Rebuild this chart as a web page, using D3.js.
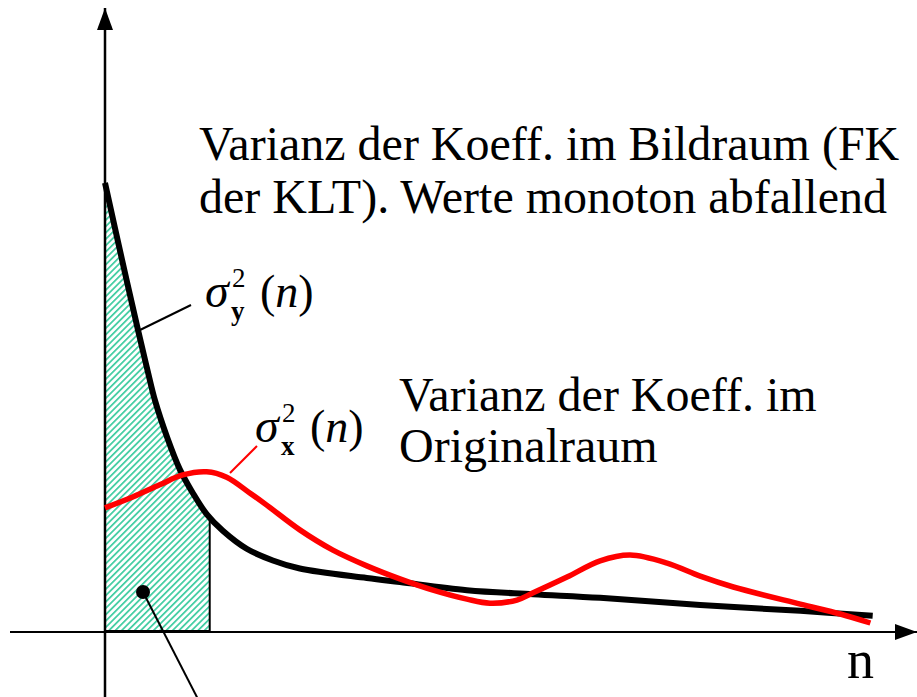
<!DOCTYPE html>
<html lang="en">
<head>
  <meta charset="utf-8">
  <script src="https://d3js.org/d3.v7.min.js"></script>
  <style>
    body { margin: 0; background: #fff; }
    text { font-family: "Liberation Serif", "DejaVu Serif", serif; fill: #000; }
  </style>
</head>
<body>
<script>
// Varianz im Bildraum (KLT), monoton abfallend
const nY = [0, 0.22, 0.43, 0.55, 0.65, 0.81, 0.97, 1.14, 1.32, 1.53, 1.84, 2.18, 2.53, 3.4, 3.83, 4.7, 5.56, 6.43, 7.73, 9.03, 9.97];
const varY = [9.98, 8.28, 6.7, 5.83, 5.14, 4.31, 3.62, 3.09, 2.62, 2.25, 1.85, 1.59, 1.41, 1.2, 1.11, 0.93, 0.84, 0.76, 0.6, 0.47, 0.36];
// Varianz im Originalraum
const nX = [0, 0.36, 0.71, 1.01, 1.32, 1.58, 1.88, 2.1, 2.53, 2.96, 3.4, 3.83, 4.26, 4.7, 5.0, 5.35, 5.56, 6.0, 6.43, 6.82, 7.3, 7.73, 8.16, 9.03, 9.55, 9.94];
const varX = [2.76, 3.0, 3.27, 3.49, 3.56, 3.44, 3.09, 2.82, 2.27, 1.82, 1.47, 1.18, 0.93, 0.73, 0.64, 0.71, 0.87, 1.22, 1.58, 1.71, 1.53, 1.24, 1.0, 0.62, 0.4, 0.2];
// hatched part (first coefficients)
const nCut = 1.36;
const cutV = 2.55;

const labelsTop = ["Varianz der Koeff. im Bildraum (FK", "der KLT). Werte monoton abfallend"];
const labelsMid = ["Varianz der Koeff. im", "Originalraum"];

const W = 917, H = 697;
const svg = d3.select("body").append("svg")
  .attr("width", W).attr("height", H);

const x = d3.scaleLinear().domain([0, 10]).range([105, 875]);
const y = d3.scaleLinear().domain([0, 10]).range([632, 182]);

const dataY = nY.map((n, i) => ({n: n, v: varY[i]}));
const dataX = nX.map((n, i) => ({n: n, v: varX[i]}));

const defs = svg.append("defs");
const pat = defs.append("pattern")
  .attr("id", "hatch")
  .attr("patternUnits", "userSpaceOnUse")
  .attr("width", 4.5).attr("height", 4.5)
  .attr("patternTransform", "rotate(-45)");
pat.append("rect").attr("width", 4.5).attr("height", 4.5).attr("fill", "#fff");
pat.append("rect").attr("width", 4.5).attr("height", 1.7).attr("fill", "#3dcca0");

defs.append("clipPath").attr("id", "cut")
  .append("rect")
  .attr("x", x(0)).attr("y", 0)
  .attr("width", x(nCut) - x(0)).attr("height", H);

const curve = d3.curveCatmullRom.alpha(0.5);

// hatched area under the KLT curve
const area = d3.area()
  .x(d => x(d.n)).y0(y(0)).y1(d => y(d.v))
  .curve(curve);
svg.append("path")
  .datum(dataY)
  .attr("d", area)
  .attr("fill", "url(#hatch)")
  .attr("clip-path", "url(#cut)");

// right and bottom border of hatched area
svg.append("line")
  .attr("x1", x(nCut)).attr("x2", x(nCut))
  .attr("y1", y(cutV)).attr("y2", y(0))
  .attr("stroke", "#000").attr("stroke-width", 2);
svg.append("line")
  .attr("x1", x(0)).attr("x2", x(nCut))
  .attr("y1", y(0) - 1).attr("y2", y(0) - 1)
  .attr("stroke", "#000").attr("stroke-width", 2);

// axes with arrows
defs.append("marker")
  .attr("id", "arrow")
  .attr("viewBox", "0 0 22 16")
  .attr("refX", 22).attr("refY", 8)
  .attr("markerWidth", 22).attr("markerHeight", 16)
  .attr("markerUnits", "userSpaceOnUse")
  .attr("orient", "auto")
  .append("path").attr("d", "M0,0 L22,8 L0,16 Z").attr("fill", "#000");

svg.append("line")
  .attr("x1", 10).attr("x2", 917)
  .attr("y1", y(0)).attr("y2", y(0))
  .attr("stroke", "#000").attr("stroke-width", 2)
  .attr("marker-end", "url(#arrow)");
svg.append("line")
  .attr("x1", x(0)).attr("x2", x(0))
  .attr("y1", H).attr("y2", 8)
  .attr("stroke", "#000").attr("stroke-width", 2.5)
  .attr("marker-end", "url(#arrow)");

const line = d3.line().x(d => x(d.n)).y(d => y(d.v)).curve(curve);

svg.append("path")
  .datum(dataY)
  .attr("d", line)
  .attr("fill", "none")
  .attr("stroke", "#000")
  .attr("stroke-width", 6);

svg.append("path")
  .datum(dataX)
  .attr("d", line)
  .attr("fill", "none")
  .attr("stroke", "#ff0000")
  .attr("stroke-width", 5.5);

// leader lines
svg.append("line")
  .attr("x1", 140).attr("y1", 330).attr("x2", 191).attr("y2", 305)
  .attr("stroke", "#000").attr("stroke-width", 2);
svg.append("line")
  .attr("x1", 230).attr("y1", 473).attr("x2", 257).attr("y2", 446)
  .attr("stroke", "#ff0000").attr("stroke-width", 2);
svg.append("circle")
  .attr("cx", 143).attr("cy", 592).attr("r", 7).attr("fill", "#000");
svg.append("line")
  .attr("x1", 143).attr("y1", 592).attr("x2", 201).attr("y2", 705)
  .attr("stroke", "#000").attr("stroke-width", 2);

// texts
svg.selectAll("text.top").data(labelsTop).enter().append("text")
  .attr("x", 199).attr("y", (d, i) => 160 + i * 53)
  .attr("font-size", 48).text(d => d);
svg.selectAll("text.mid").data(labelsMid).enter().append("text")
  .attr("x", 399).attr("y", (d, i) => 411 + i * 51)
  .attr("font-size", 48).text(d => d);

function sigma(x0, y0, sub) {
  const g = svg.append("g");
  g.append("text").attr("x", x0).attr("y", y0)
    .attr("font-size", 48).attr("font-style", "italic").text("σ");
  g.append("text").attr("x", x0 + 27).attr("y", y0 - 20)
    .attr("font-size", 27).text("2");
  g.append("text").attr("x", x0 + 26).attr("y", y0 + 13)
    .attr("font-size", 27).attr("font-weight", "bold").text(sub);
  const t = g.append("text").attr("x", x0 + 55).attr("y", y0).attr("font-size", 46);
  t.append("tspan").text("(");
  t.append("tspan").attr("font-style", "italic").text("n");
  t.append("tspan").text(")");
}
sigma(205, 307, "y");
sigma(255, 442, "x");

svg.append("text").attr("x", 847).attr("y", 678)
  .attr("font-size", 54).text("n");
</script>
</body>
</html>
